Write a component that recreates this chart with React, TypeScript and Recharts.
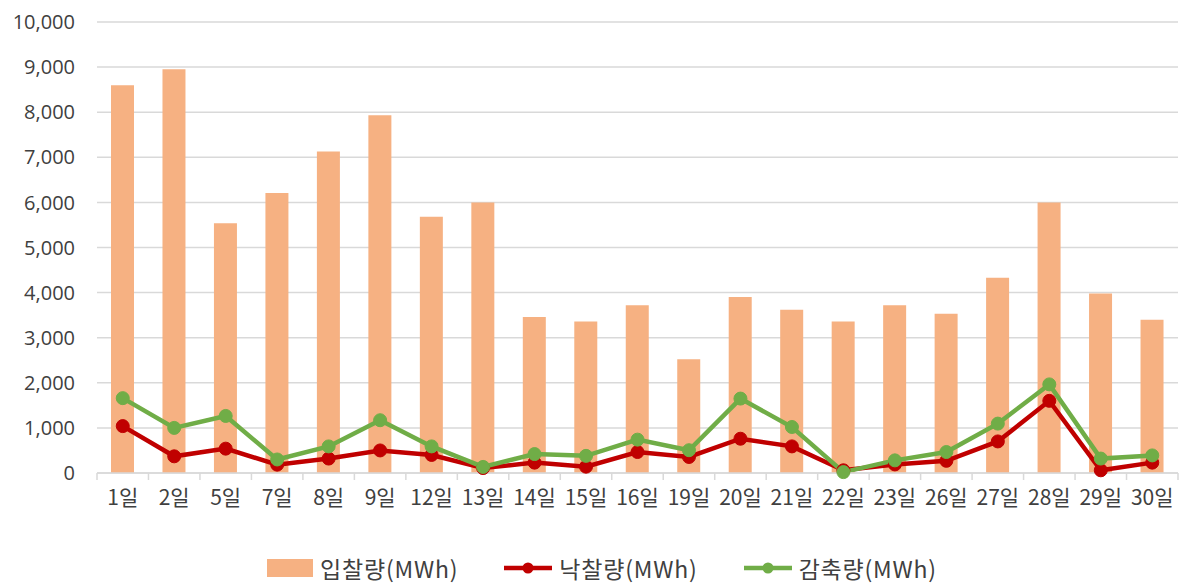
import React from "react"
import {
  ComposedChart,
  Bar,
  Line,
  XAxis,
  YAxis,
  CartesianGrid,
  Legend,
} from "recharts"

// 거래일
const days = [
  "1일", "2일", "5일", "7일", "8일", "9일", "12일", "13일", "14일", "15일", "16일",
  "19일", "20일", "21일", "22일", "23일", "26일", "27일", "28일", "29일", "30일",
]

// 입찰량(MWh)
const bidVolume = [
  8600, 8950, 5540, 6210, 7130, 7930, 5680, 6000, 3460, 3360, 3720,
  2520, 3900, 3620, 3360, 3720, 3530, 4330, 6000, 3980, 3400,
]

// 낙찰량(MWh)
const awardVolume = [
  1040, 370, 540, 185, 320, 500, 400, 110, 230, 140, 465,
  355, 760, 590, 60, 190, 270, 700, 1600, 60, 230,
]

// 감축량(MWh)
const reductionVolume = [
  1660, 1000, 1265, 300, 590, 1170, 590, 135, 420, 380, 740,
  505, 1650, 1020, 20, 280, 465, 1095, 1965, 320, 390,
]

const yTicks = [0, 1000, 2000, 3000, 4000, 5000, 6000, 7000, 8000, 9000, 10000]

const BAR_COLOR = "#F6B182"
const AWARD_COLOR = "#C00000"
const REDUCTION_COLOR = "#70AD47"
const FONT = "'Noto Sans CJK KR', 'Noto Sans', sans-serif"
const NUM_FONT = "'Open Sans', 'Noto Sans', sans-serif"

const data = days.map((day, i) => ({
  day,
  bid: bidVolume[i],
  award: awardVolume[i],
  reduction: reductionVolume[i],
}))

// Excel style: tick marks sit between categories
function DayTick(props: any) {
  const { x, y, payload, index } = props
  const half = payload?.offset ?? 25.7
  return (
    <g>
      <line x1={x - half} x2={x - half} y1={y} y2={y + 7} stroke="#D9D9D9" strokeWidth={1.5} />
      {index === days.length - 1 && (
        <line x1={x + half} x2={x + half} y1={y} y2={y + 7} stroke="#D9D9D9" strokeWidth={1.5} />
      )}
      <text x={x} y={y + 23} textAnchor="middle" dominantBaseline="central" fill="#404040" fontSize={21} fontFamily={FONT}>
        {payload.value}
      </text>
    </g>
  )
}

function ChartLegend() {
  const item = (icon: React.ReactNode, label: string, last?: boolean) => (
    <div style={{ display: "flex", alignItems: "center", marginRight: last ? 0 : 46 }}>
      {icon}
      <span style={{ marginLeft: 7, fontSize: 23, letterSpacing: 0.8, color: "#404040", fontFamily: FONT }}>{label}</span>
    </div>
  )
  const lineIcon = (color: string) => (
    <svg width={48} height={14}>
      <line x1={0} x2={48} y1={7} y2={7} stroke={color} strokeWidth={4.5} />
      <circle cx={24} cy={7} r={5.5} fill={color} />
    </svg>
  )
  return (
    <div style={{ height: 66, display: "flex", justifyContent: "center", alignItems: "center", paddingTop: 34, boxSizing: "border-box", paddingLeft: 26 }}>
      {item(<div style={{ width: 46, height: 18, background: BAR_COLOR }} />, "입찰량(MWh)")}
      {item(lineIcon(AWARD_COLOR), "낙찰량(MWh)")}
      {item(lineIcon(REDUCTION_COLOR), "감축량(MWh)", true)}
    </div>
  )
}

export default function App() {
  return (
    <div style={{ position: "absolute", left: 0, top: 0, background: "#fff" }}>
      <ComposedChart
        width={1183}
        height={584}
        data={data}
        margin={{ top: 22, right: 5, left: 0, bottom: 0 }}
        barCategoryGap={0}
      >
        <CartesianGrid vertical={false} stroke="#D9D9D9" strokeWidth={1.5} />
        <XAxis
          dataKey="day"
          axisLine={{ stroke: "#D9D9D9", strokeWidth: 1.5 }}
          tickLine={false}
          tickSize={0}
          tickMargin={0}
          height={45}
          interval={0}
          tick={<DayTick />}
        />
        <YAxis
          width={97}
          domain={[0, 10000]}
          ticks={yTicks}
          axisLine={false}
          tickLine={false}
          tickMargin={16}
          tick={{ fontSize: 20, fill: "#404040", fontFamily: NUM_FONT }}
          tickFormatter={(v: number) => v.toLocaleString("en-US")}
        />
        <Legend verticalAlign="bottom" content={<ChartLegend />} />
        <Bar dataKey="bid" name="입찰량(MWh)" fill={BAR_COLOR} barSize={23} isAnimationActive={false} />
        <Line
          dataKey="award"
          name="낙찰량(MWh)"
          stroke={AWARD_COLOR}
          strokeWidth={4.5}
          dot={{ r: 6.5, fill: AWARD_COLOR, stroke: AWARD_COLOR, strokeWidth: 1 }}
          isAnimationActive={false}
        />
        <Line
          dataKey="reduction"
          name="감축량(MWh)"
          stroke={REDUCTION_COLOR}
          strokeWidth={4.5}
          dot={{ r: 6.5, fill: REDUCTION_COLOR, stroke: REDUCTION_COLOR, strokeWidth: 1 }}
          isAnimationActive={false}
        />
      </ComposedChart>
    </div>
  )
}
